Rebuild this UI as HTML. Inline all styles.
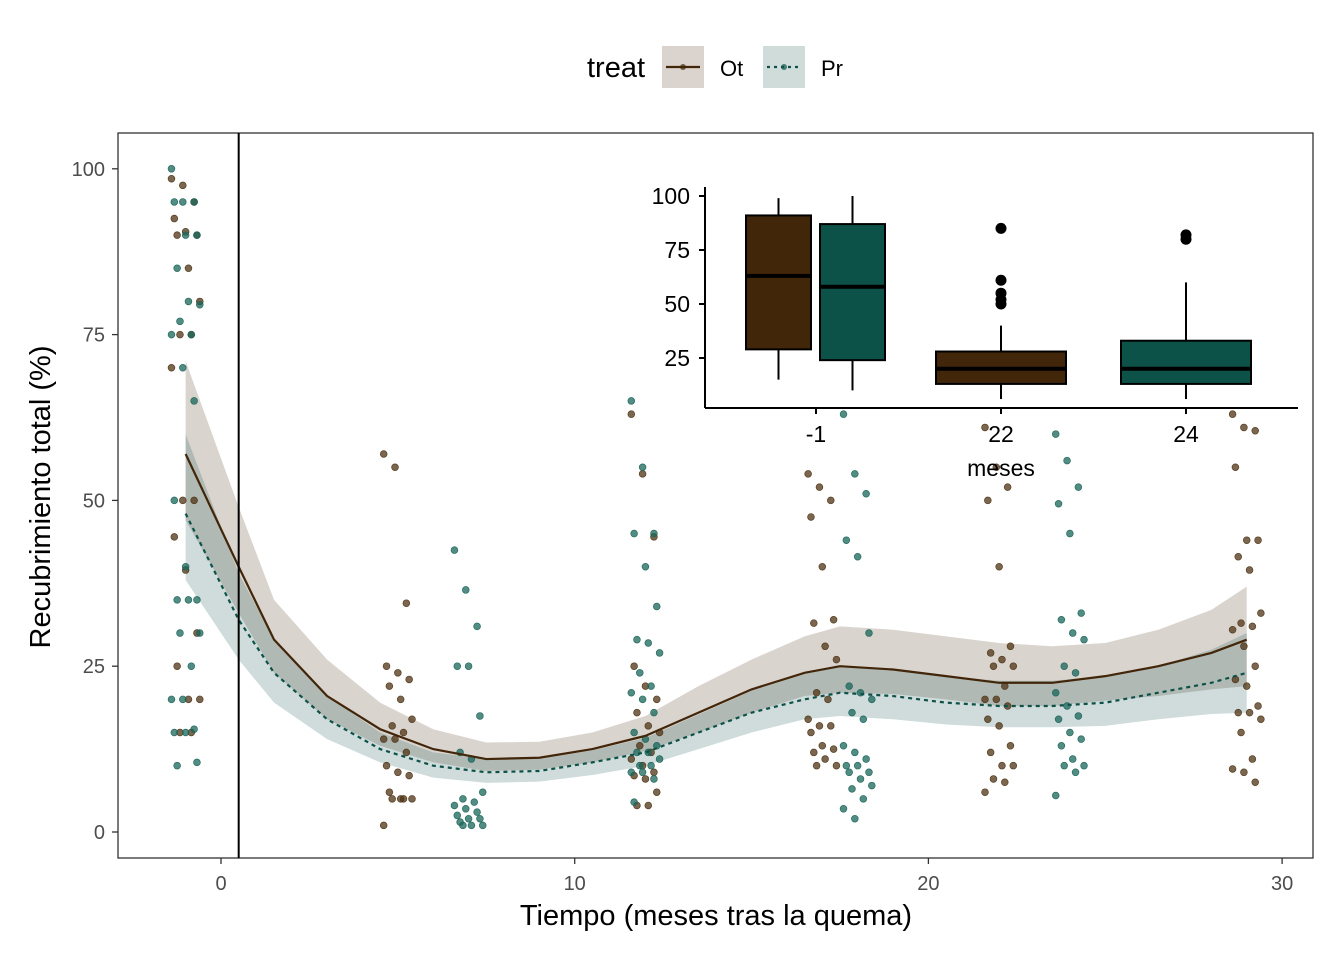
<!DOCTYPE html>
<html><head><meta charset="utf-8"><style>
body{margin:0;background:#fff;}
svg text{font-family:"Liberation Sans",Arial,sans-serif;}
</style></head><body>
<svg id="chart" width="1344" height="960" viewBox="0 0 1344 960" xmlns="http://www.w3.org/2000/svg">
<rect width="1344" height="960" fill="#fff"/>
<g id="legend">
<text x="587" y="77" font-size="29" fill="#000">treat</text>
<g>
<rect x="662" y="46" width="42" height="42" fill="#dbd4ce"/>
<line x1="666" y1="67" x2="700" y2="67" stroke="#42260a" stroke-width="2.2"/>
<circle cx="683" cy="67" r="3" fill="#42260a" opacity="0.7"/>
<text x="720" y="76" font-size="22" fill="#000">Ot</text></g>
<g>
<rect x="763" y="46" width="42" height="42" fill="#cfdcda"/>
<line x1="767" y1="67" x2="801" y2="67" stroke="#0d5249" stroke-width="2.2" stroke-dasharray="3,4"/>
<circle cx="784" cy="67" r="3" fill="#0d5249" opacity="0.7"/>
<text x="821" y="76" font-size="22" fill="#000">Pr</text></g>
</g>
<g id="main"></g>
<g id="inset"></g>
</svg>
<script>
const fitX=[-1,0.5,1.5,3,4.5,6,7.5,9,10.5,12,13.5,15,16.5,17.5,19,20.5,22,23.5,25,26.5,28,29];
const otFit=[57,40,29,20.5,15.5,12.5,11,11.2,12.5,14.5,18,21.5,24,25,24.5,23.5,22.5,22.5,23.5,25,27,29];
const otLo=[47,33,24,17,13,10.5,9.2,9.4,10.5,12.2,15,18,20.5,21,20.8,20,19,19,19.8,20.5,21.5,22];
const otHi=[71,49,35,26,19.5,15.5,13.5,13.6,15,17.5,22,26,29.5,31,30.5,29.5,28.5,28,28.5,30.5,33.5,37];
const prFit=[48,32,24,17,12.5,10,9,9.2,10.5,12,15,18,20,21,20.5,19.5,19,19,19.5,21,22.5,24];
const prLo=[38,26,19.5,14,10.5,8.2,7.4,7.6,8.6,10,12.5,15,17,17.5,17,16.2,15.8,15.8,16,17,17.8,18];
const prHi=[60,39,29,20.5,15,12,11,11,12.3,14.2,17.7,21.3,23.8,25,24.5,23.5,22.8,22.8,23.5,25,27.5,30];
const otPts={"-1":[98.5,97.5,95,92.5,90.5,90,90,85,80,75,75,70,50,50,44.5,39.5,30,25,20,20,15,15],
"5":[57,55,34.5,25,24,23,22,20,17,16,15,14,14,12,10,9,8.5,6,5,5,5,5,1],
"12":[63,54,44.5,25,22,20,18,16,15,13,12,11,10,9,8.5,8,6,4,4],
"17":[54,52,50,47.5,40,32,31.5,28,26,21,20,17,16,16,15,13,12.5,12,11,10,10],
"22":[61,55,52,50,40,28,27,26,25,25,22,20,20,19,17,16,13,12,10,10,8,7.5,6],
"29":[63,61,60.5,55,44,44,41.5,39.5,33,31.5,31,30.5,28,25,23,22,19,18,18,17,15,11,9.5,9,7.5]};
const prPts={"-1":[100,95,95,95,90,90,85,80,79.5,77,75,75,70,65,50,40,35,35,35,30,30,25,20,20,15.5,15,15,10.5,10],
"7":[42.5,36.5,31,25,25,17.5,12,11,6,5,4.5,4,3.5,3,2.5,2,2,1.5,1,1,1],
"12":[65,55,45,45,40,34,29,28.5,27,24,22,21,20,18,15,14,13,12,12,11,10,10,9,9,8,4.5],
"18":[63,54,51,44,41.5,30,22,21,20,18,17,13,12,11,10,10,9,9,8,7,6.5,5,3.5,2],
"24":[60,56,52,49.5,45,33,32,30,29,25,24,21,19,17.5,17,15,14,13,11,10,10,9,5.5]};
const xTicks=[0,10,20,30];
const yTicks=[0,25,50,75,100];
const insetCats=["-1","22","24"];
const insetTicks=[25,50,75,100];
const boxCat=["-1","-1","22","24"];
const boxGroup=["Ot","Pr","Ot","Pr"];
const boxStats=[[15,29,63,91,99],[10,24,58,87,100],[6,13,20,28,40],[6,13,20,33,60]];
const outCat=["22","22","22","22","22","24","24"];
const outVal=[50,52,55,61,85,80,82];

const NS="http://www.w3.org/2000/svg";
function mk(tag,attrs,parent){const e=document.createElementNS(NS,tag);for(const k in attrs)e.setAttribute(k,attrs[k]);parent.appendChild(e);return e;}
const X=v=>221+v*35.37, Y=v=>832-v*6.632;
const OT="#42260a", PR="#0d5249";
const main=document.getElementById('main');
const frame=mk('rect',{x:118,y:133,width:1195,height:725,fill:'none',stroke:'#333','stroke-width':1.3},main);


function ribbon(lo,hi,fill,name){
 let d='M'+fitX.map((x,i)=>X(x)+','+Y(hi[i])).join('L')+'L'+fitX.slice().reverse().map((x,j)=>{const i=fitX.length-1-j;return X(x)+','+Y(lo[i]);}).join('L')+'Z';
 const p=mk('path',{d:d,fill:fill},main);
 
 
}
ribbon(otLo,otHi,'rgba(69,42,13,0.2)','ribbon-ot');
ribbon(prLo,prHi,'rgba(13,82,73,0.2)','ribbon-pr');
function pts(obj,col,name){
 for(const k in obj){obj[k].forEach((v,i)=>{
  const jit=(((i*37)%11)/10-0.5)*0.8;
  const c=mk('circle',{cx:X(parseFloat(k)+jit),cy:Y(v),r:3.4,fill:col,'fill-opacity':0.75,stroke:col,'stroke-opacity':0.9,'stroke-width':0.7},main);
  
  
 });}
}
pts(otPts,'#4f3415','point-ot');
pts(prPts,'#1a655a','point-pr');
function line(vals,col,dash,name){
 const p=mk('polyline',{points:fitX.map((x,i)=>X(x)+','+Y(vals[i])).join(' '),fill:'none',stroke:col,'stroke-width':2.2},main);
 if(dash)p.setAttribute('stroke-dasharray',dash);
 
 
}
line(otFit,OT,null,'smooth-line-ot');
line(prFit,PR,'4,4','smooth-line-pr');
const vl=mk('line',{x1:X(0.5),x2:X(0.5),y1:133,y2:858,stroke:'#000','stroke-width':2},main);


xTicks.forEach(t=>{
 mk('line',{x1:X(t),x2:X(t),y1:858,y2:864,stroke:'#333','stroke-width':1.3},main);
 const tx=mk('text',{x:X(t),y:890,'font-size':20,fill:'#4d4d4d','text-anchor':'middle'},main);tx.textContent=t;
 
 
});
yTicks.forEach(t=>{
 mk('line',{x1:112,x2:118,y1:Y(t),y2:Y(t),stroke:'#333','stroke-width':1.3},main);
 const tx=mk('text',{x:105,y:Y(t)+7,'font-size':20,fill:'#4d4d4d','text-anchor':'end'},main);tx.textContent=t;
 
 
});
const xt=mk('text',{x:716,y:925,'font-size':29,fill:'#000','text-anchor':'middle'},main);xt.textContent='Tiempo (meses tras la quema)';


const yt=mk('text',{x:50,y:497,'font-size':29,fill:'#000','text-anchor':'middle',transform:'rotate(-90 50 497)'},main);yt.textContent='Recubrimiento total (%)';



const ins=document.getElementById('inset');
const IY=v=>412-v*2.16;
const catX={"-1":816,"22":1001,"24":1186};
mk('line',{x1:705,x2:705,y1:187,y2:408,stroke:'#000','stroke-width':2},ins);
mk('line',{x1:705,x2:1298,y1:408,y2:408,stroke:'#000','stroke-width':2},ins);
insetTicks.forEach(t=>{
 mk('line',{x1:699,x2:705,y1:IY(t),y2:IY(t),stroke:'#000','stroke-width':2},ins);
 const tx=mk('text',{x:690,y:IY(t)+8,'font-size':23,fill:'#000','text-anchor':'end'},ins);tx.textContent=t;
 
 
});
insetCats.forEach(c=>{
 mk('line',{x1:catX[c],x2:catX[c],y1:408,y2:414,stroke:'#000','stroke-width':2},ins);
 const tx=mk('text',{x:catX[c],y:442,'font-size':23,fill:'#000','text-anchor':'middle'},ins);tx.textContent=c;
 
 
});
const it=mk('text',{x:1001,y:476,'font-size':23,fill:'#000','text-anchor':'middle'},ins);it.textContent='meses';


boxCat.forEach((c,i)=>{
 const s=boxStats[i];
 const both=boxCat.filter(k=>k===c).length>1;
 let cx=catX[c],w=130;
 if(both){w=65;cx=catX[c]+(boxGroup[i]==='Ot'?-37.5:36.5);}
 const g=mk('g',{},ins);
 
 
 mk('line',{x1:cx,x2:cx,y1:IY(s[0]),y2:IY(s[4]),stroke:'#000','stroke-width':2},g);
 mk('rect',{x:cx-w/2,y:IY(s[3]),width:w,height:IY(s[1])-IY(s[3]),fill:boxGroup[i]==='Ot'?OT:PR,stroke:'#000','stroke-width':2},g);
 mk('line',{x1:cx-w/2,x2:cx+w/2,y1:IY(s[2]),y2:IY(s[2]),stroke:'#000','stroke-width':4},g);
});
outCat.forEach((c,i)=>{
 const o=mk('circle',{cx:catX[c],cy:IY(outVal[i]),r:5.5,fill:'#000'},ins);
 
 
});
</script>
</body></html>
